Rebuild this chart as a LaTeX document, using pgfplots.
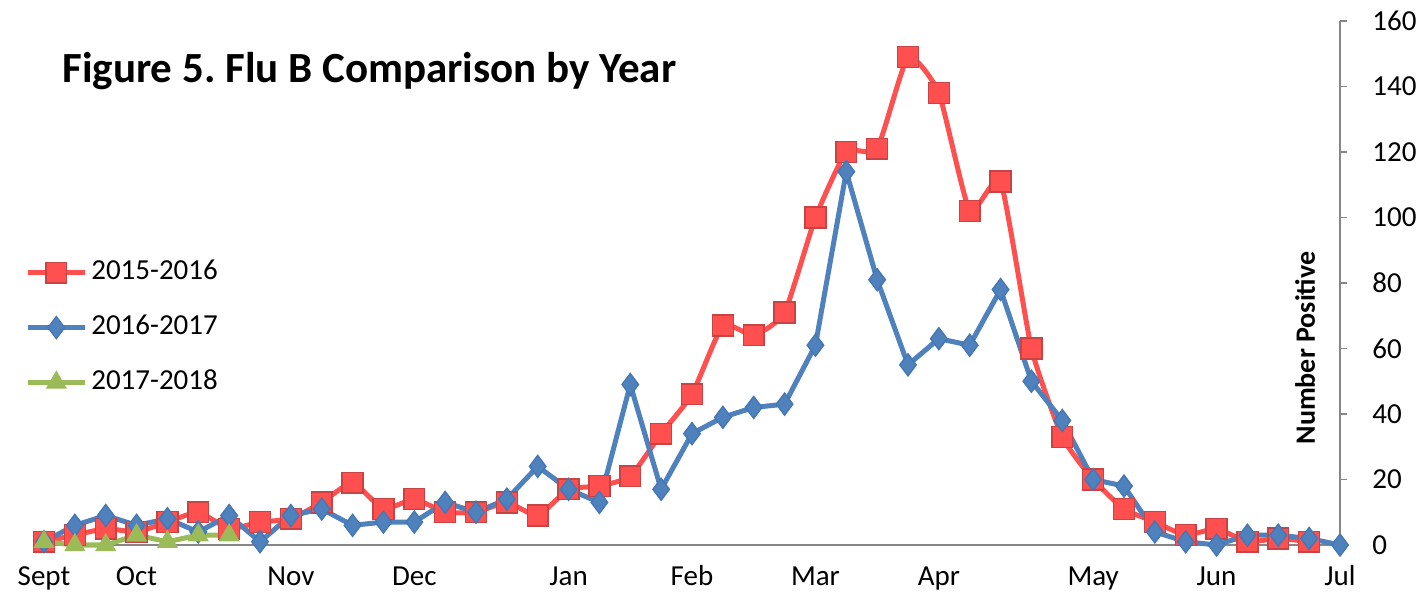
\documentclass[border=0pt]{standalone}
\usepackage{pgfplots}
\pgfplotsset{compat=1.18}
\usepackage{fontspec}
\setmainfont{Carlito}

\definecolor{fluRed}{HTML}{FF4F4F}
\definecolor{fluRedDark}{HTML}{C84444}
\definecolor{fluBlue}{HTML}{4F81BD}
\definecolor{fluBlueDark}{HTML}{4477B4}
\definecolor{fluGreen}{HTML}{9BBB59}
\definecolor{axisgray}{HTML}{868686}

\begin{document}
\begin{tikzpicture}
\useasboundingbox (-22bp,-25bp) rectangle (688bp,272.5bp);
\begin{axis}[
    scale only axis,
    width=648bp, height=262bp,
    xmin=0, xmax=42,
    ymin=0, ymax=160,
    axis x line*=bottom,
    axis y line*=right,
    axis line style={draw=axisgray, line width=0.9bp},
    xtick={0,3,8,12,17,21,25,29,34,38,42},
    xticklabels={Sept,Oct,Nov,Dec,Jan,Feb,Mar,Apr,May,Jun,Jul},
    x tick style={draw=none},
    ytick={0,20,...,160},
    y tick style={draw=axisgray, line width=0.9bp},
    tick align=outside,
    major tick length=3.5bp,
    /pgf/number format/assume math mode=true,
    ticklabel style={font=\fontsize{14.5bp}{17bp}\selectfont},
    yticklabel style={anchor=west, inner sep=0pt, xshift=12.5bp},
    xticklabel style={anchor=base, inner sep=0pt, yshift=-16.5bp},
    ylabel={Number Positive},
    every axis y label/.style={at={(rel axis cs:0.973,0.376)}, rotate=90,
        anchor=center, font=\bfseries\fontsize{14bp}{16bp}\selectfont},
    legend style={at={(rel axis cs:-0.0147,0.553)}, anchor=north west,
        draw=none, fill=none, inner sep=0pt, row sep=10.5bp, column sep=0bp,
        font=\fontsize{14.5bp}{17bp}\selectfont,
        nodes={text height=10bp, text depth=3bp},
        cells={anchor=west}},
    legend image code/.code={
        \draw[mark repeat=2, mark phase=2, #1]
            plot coordinates {(0bp,0bp) (14.25bp,0bp) (28.5bp,0bp)};},
    clip=false,
]

% 2015-2016
\addplot[color=fluRed, line width=2.5bp, smooth, tension=0.3,
    mark=square*, mark size=5.2bp,
    mark options={fill=fluRed, draw=fluRedDark, line width=0.7bp}]
coordinates {
(0,1)(1,3)(2,5)(3,4)(4,7)(5,10)(6,5)(7,7)(8,8)(9,13)(10,19)(11,11)(12,14)(13,10)
(14,10)(15,13)(16,9)(17,17)(18,18)(19,21)(20,34)(21,46)(22,67)(23,64)(24,71)
(25,100)(26,120)(27,121)(28,149)(29,138)(30,102)(31,111)(32,60)(33,33)(34,20)
(35,11)(36,7)(37,3)(38,5)(39,1)(40,2)(41,1)
};
\addlegendentry{2015-2016}

% 2016-2017
\addplot[color=fluBlue, line width=2.5bp,
    mark=diamond*, mark size=5.5bp,
    mark options={fill=fluBlue, draw=fluBlueDark, line width=0.7bp}]
coordinates {
(0,1)(1,6)(2,9)(3,6)(4,8)(5,4)(6,9)(7,1)(8,9)(9,11)(10,6)(11,7)(12,7)(13,13)
(14,10)(15,14)(16,24)(17,17)(18,13)(19,49)(20,17)(21,34)(22,39)(23,42)(24,43)
(25,61)(26,114)(27,81)(28,55)(29,63)(30,61)(31,78)(32,50)(33,38)(34,20)
(35,18)(36,4)(37,1)(38,0)(39,3)(40,3)(41,2)(42,0)
};
\addlegendentry{2016-2017}

% 2017-2018
\addplot[color=fluGreen, line width=2.5bp,
    mark=triangle*, mark size=5.6bp,
    mark options={fill=fluGreen, draw=fluGreen, line width=0.5bp}]
coordinates {
(0,1)(1,0)(2,0)(3,3)(4,1)(5,3)(6,3)
};
\addlegendentry{2017-2018}

\end{axis}
\node[anchor=base west, inner sep=0pt,
    font=\bfseries\fontsize{21.5bp}{25bp}\selectfont]
    at (9bp,231bp) {Figure 5.\ Flu B Comparison by Year};
\end{tikzpicture}
\end{document}
